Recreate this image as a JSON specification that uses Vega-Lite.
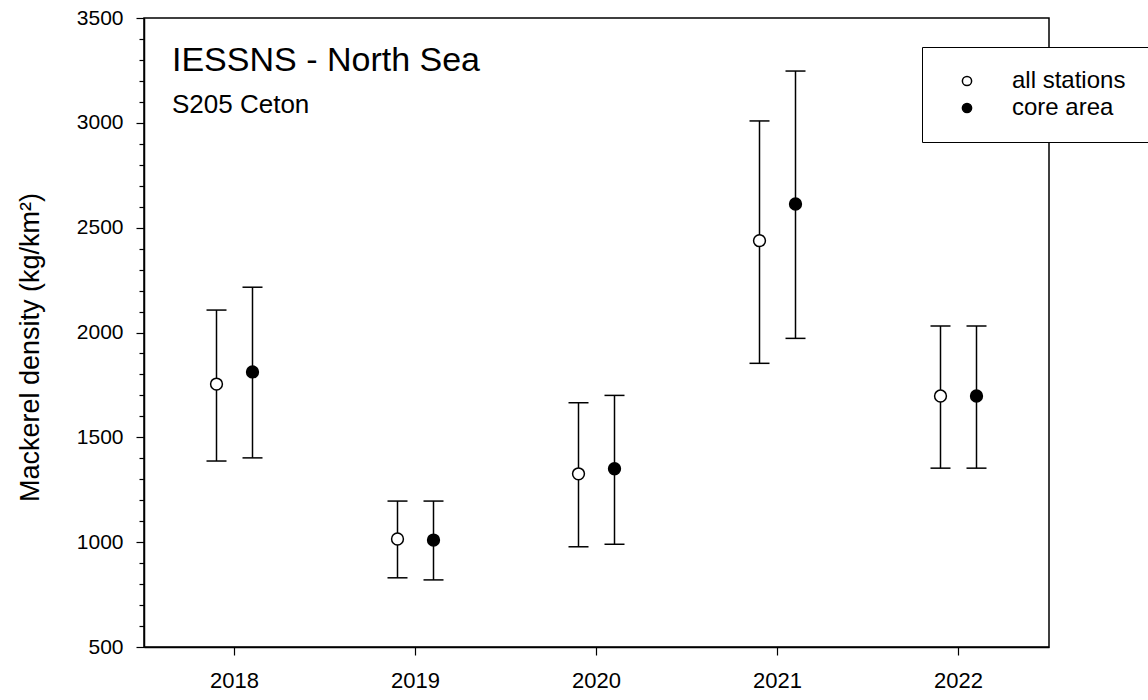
{
  "$schema": "https://vega.github.io/schema/vega-lite/v6.json",
  "width": 905,
  "height": 629,
  "autosize": "none",
  "padding": {"left": 144, "top": 18, "right": 99, "bottom": 53},
  "background": "white",
  "config": {
    "view": {"stroke": "black", "strokeWidth": 1.5},
    "font": "Liberation Sans",
    "axis": {"domainColor": "black", "domainWidth": 1.5, "tickColor": "black", "tickWidth": 1.2, "labelColor": "black", "titleColor": "black", "grid": false, "labelFont": "Liberation Sans"}
  },
  "title": {
    "text": "IESSNS - North Sea",
    "subtitle": "S205 Ceton",
    "anchor": "start",
    "frame": "group",
    "orient": "top",
    "font": "Liberation Sans",
    "subtitleFont": "Liberation Sans",
    "fontSize": 34,
    "subtitleFontSize": 26,
    "fontWeight": "normal",
    "color": "black",
    "subtitleColor": "black",
    "subtitlePadding": 14,
    "offset": 0,
    "dx": 28,
    "dy": 111
  },
  "data": {
    "values": [
      {"year": "2018", "series": "all stations", "mean": 1754, "lower": 1387, "upper": 2107},
      {"year": "2018", "series": "core area", "mean": 1812, "lower": 1402, "upper": 2216},
      {"year": "2019", "series": "all stations", "mean": 1015, "lower": 830, "upper": 1196},
      {"year": "2019", "series": "core area", "mean": 1010, "lower": 820, "upper": 1196},
      {"year": "2020", "series": "all stations", "mean": 1326, "lower": 978, "upper": 1665},
      {"year": "2020", "series": "core area", "mean": 1350, "lower": 990, "upper": 1700},
      {"year": "2021", "series": "all stations", "mean": 2438, "lower": 1853, "upper": 3009},
      {"year": "2021", "series": "core area", "mean": 2613, "lower": 1972, "upper": 3247},
      {"year": "2022", "series": "all stations", "mean": 1697, "lower": 1353, "upper": 2031},
      {"year": "2022", "series": "core area", "mean": 1697, "lower": 1353, "upper": 2031}
    ]
  },
  "encoding": {
    "x": {
      "field": "year", "type": "ordinal",
      "scale": {"paddingInner": 0, "paddingOuter": 0},
      "axis": {"title": null, "labelAngle": 0, "tickSize": 8, "labelPadding": 15, "labelFont": "Liberation Sans", "labelFontSize": 22}
    },
    "xOffset": {
      "field": "series", "type": "nominal",
      "scale": {"domain": ["all stations", "core area"], "range": [54.5, 126.5], "paddingOuter": 0, "paddingInner": 0}
    }
  },
  "resolve": {"axis": {"y": "independent"}},
  "layer": [
    {
      "mark": {"type": "rule", "stroke": "black", "strokeWidth": 1.5},
      "encoding": {
        "y": {
          "field": "lower", "type": "quantitative",
          "scale": {"domain": [500, 3500], "nice": false, "zero": false},
          "axis": {
            "orient": "left",
            "title": "Mackerel density (kg/km²)",
            "titleFontSize": 27, "titleFontWeight": "normal", "titleFont": "Liberation Sans",
            "titleX": -114, "titleY": 329, "titleAngle": -90, "titleAlign": "center", "titleBaseline": "middle",
            "values": [500, 1000, 1500, 2000, 2500, 3000, 3500],
            "format": "d",
            "labelFontSize": 21,
            "labelOverlap": false,
            "tickSize": 8,
            "labelPadding": 13
          }
        },
        "y2": {"field": "upper"}
      }
    },
    {
      "mark": {"type": "tick", "size": 20, "thickness": 1.5, "color": "black", "opacity": 1},
      "encoding": {
        "y": {
          "field": "upper", "type": "quantitative",
          "axis": {
            "orient": "left", "title": null, "labels": false, "domain": false, "offset": 0,
            "values": [600,700,800,900,1100,1200,1300,1400,1600,1700,1800,1900,2100,2200,2300,2400,2600,2700,2800,2900,3100,3200,3300,3400],
            "tickSize": 5
          }
        }
      }
    },
    {
      "mark": {"type": "tick", "size": 20, "thickness": 1.5, "color": "black", "opacity": 1},
      "encoding": {"y": {"field": "lower", "type": "quantitative", "axis": null}}
    },
    {
      "mark": {"type": "point", "shape": "circle", "filled": true, "stroke": "black", "strokeWidth": 1.5, "size": 140, "opacity": 1},
      "encoding": {
        "y": {"field": "mean", "type": "quantitative", "axis": null},
        "fill": {
          "field": "series", "type": "nominal",
          "scale": {"domain": ["all stations", "core area"], "range": ["white", "black"]},
          "legend": {
            "title": null, "orient": "none", "legendX": 778, "legendY": 29,
            "strokeColor": "black", "fillColor": "white", "padding": 22,
            "symbolType": "circle", "symbolSize": 85, "symbolStrokeColor": "black", "symbolStrokeWidth": 1.5,
            "symbolOffset": 11, "labelOffset": 33, "labelFontSize": 24, "labelFont": "Liberation Sans", "labelColor": "black", "rowPadding": 3
          }
        }
      }
    }
  ]
}
